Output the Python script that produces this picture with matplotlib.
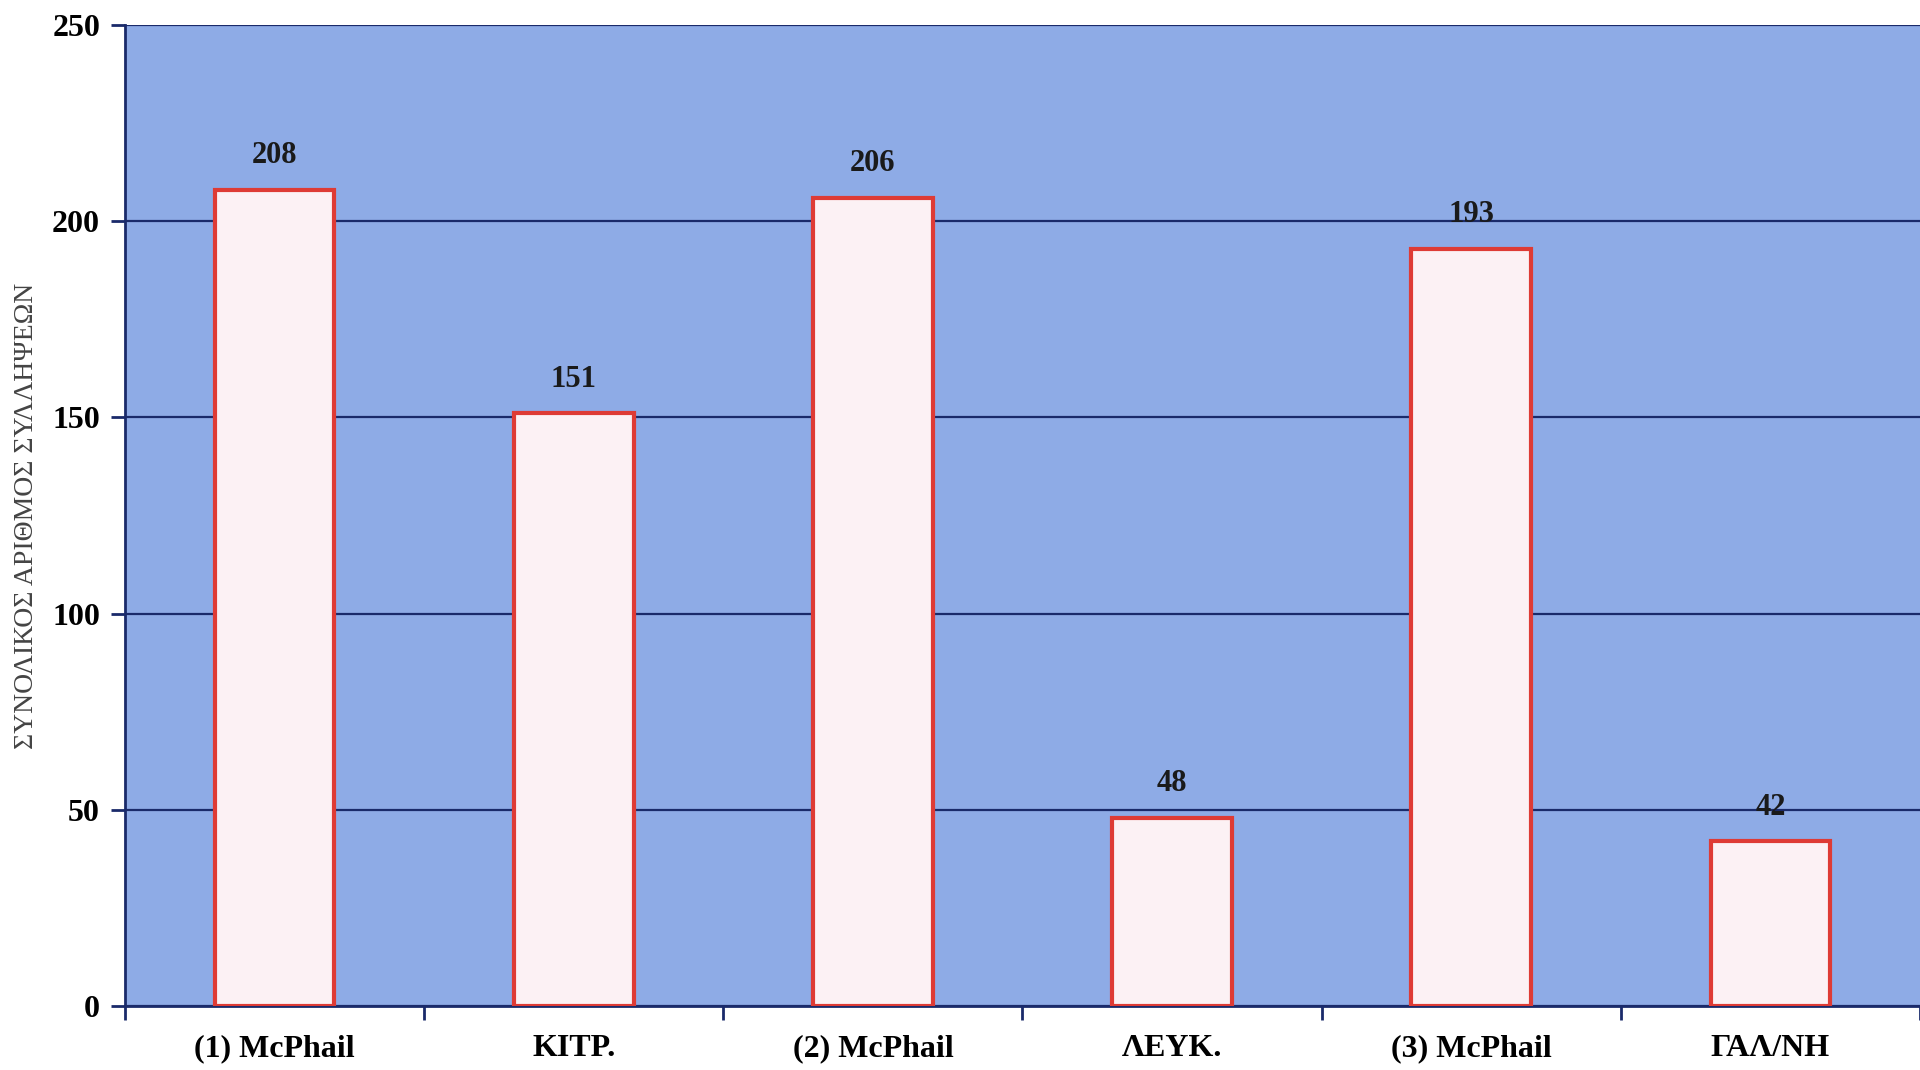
import numpy as np
from matplotlib import pyplot as plt

plt.rcParams.update({
    'font.family': ['Liberation Serif', 'DejaVu Serif'],
    'axes.linewidth': 2.0,
})

categories = ['(1) McPhail', 'ΚΙΤΡ.', '(2) McPhail', 'ΛΕΥΚ.', '(3) McPhail', 'ΓΑΛ/ΝΗ']
captures = [208, 151, 206, 48, 193, 42]
y_ticks = [0, 50, 100, 150, 200, 250]

navy = '#1a2a6a'

fig = plt.figure(figsize=(19.2, 10.7), dpi=100)
ax = fig.add_axes([125 / 1920, 1 - 1006 / 1070, 1795 / 1920, 981 / 1070])
ax.set_facecolor('#8eabe6')

x = np.arange(len(categories))
bars = ax.bar(x, captures, width=0.4, color='#fcf1f4', edgecolor='#de3b35',
              linewidth=3, zorder=3)

for b, v in zip(bars, captures):
    ax.text(b.get_x() + b.get_width() / 2, v + 5, str(v), ha='center', va='bottom',
            fontsize=22, fontweight='bold', color='#1a1a1a', zorder=4)

ax.set_xlim(-0.5, len(categories) - 0.5)
ax.set_ylim(0, 250)
ax.set_yticks(y_ticks)
ax.set_yticklabels([str(t) for t in y_ticks], fontsize=23, fontweight='bold')
ax.set_xticks(np.arange(len(categories) + 1) - 0.5, minor=False)
ax.set_xticklabels([])
ax.set_xticks(x, minor=True)
ax.set_xticklabels(categories, minor=True, fontsize=23, fontweight='bold')
ax.tick_params(axis='x', which='minor', length=0, pad=20)
ax.tick_params(axis='x', which='major', length=10, width=2, color=navy, direction='out')
ax.tick_params(axis='y', length=10, width=2, color=navy, pad=8)

ax.yaxis.grid(True, color=navy, linewidth=1.6, zorder=1)
ax.set_axisbelow(True)
for s in ['top', 'right']:
    ax.spines[s].set_visible(False)
for s in ['left', 'bottom']:
    ax.spines[s].set_color(navy)

ax.set_ylabel('ΣΥΝΟΛΙΚΟΣ ΑΡΙΘΜΟΣ ΣΥΛΛΗΨΕΩΝ', fontsize=20, color='#444444')
ax.yaxis.set_label_coords(-0.048, 0.5)

fig.savefig('out.png', dpi=100)
